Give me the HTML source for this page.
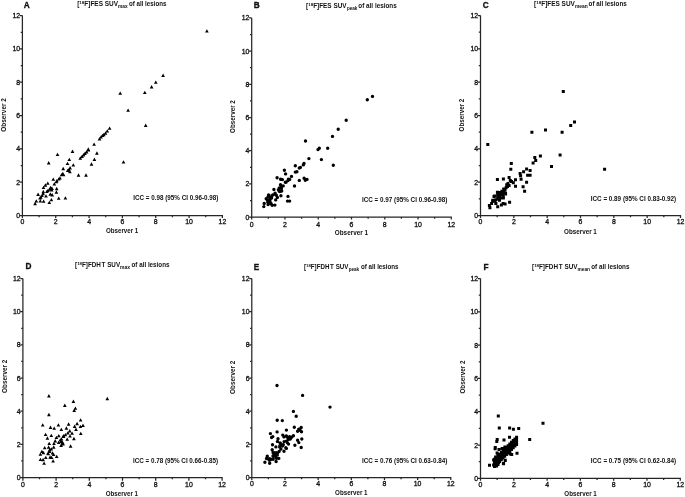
<!DOCTYPE html>
<html><head><meta charset="utf-8"><style>
html,body{margin:0;padding:0;background:#fff;}
body{width:685px;height:497px;overflow:hidden;}
svg{display:block;filter:grayscale(1);}
text{font-family:"Liberation Sans", sans-serif;fill:#111;}
.tl{font-size:6.9px;stroke:#111;stroke-width:0.3px;}
.lt{font-size:19.4px;font-weight:bold;stroke:#111;stroke-width:0.7px;}
.tt{font-size:6.4px;font-weight:bold;}
.sb{font-size:5.3px;font-weight:bold;}
.ic{font-size:6.6px;font-weight:bold;}
.ob{font-size:7.1px;font-weight:bold;}
</style></head><body>
<svg width="685" height="497" viewBox="0 0 685 497">
<rect width="685" height="497" fill="#fff"/>
<path d="M22.4 15.6H19.8M22.4 15.6V215.5H222.4V218" fill="none" stroke="#262626" stroke-width="1.25"/>
<path d="M22.4 215.5H19.8M22.4 215.5V218M22.4 198.84H20.7M39.07 215.5V217.2M22.4 182.18H19.8M55.73 215.5V218M22.4 165.52H20.7M72.4 215.5V217.2M22.4 148.87H19.8M89.07 215.5V218M22.4 132.21H20.7M105.73 215.5V217.2M22.4 115.55H19.8M122.4 215.5V218M22.4 98.89H20.7M139.07 215.5V217.2M22.4 82.23H19.8M155.73 215.5V218M22.4 65.57H20.7M172.4 215.5V217.2M22.4 48.92H19.8M189.07 215.5V218M22.4 32.26H20.7M205.73 215.5V217.2" fill="none" stroke="#262626" stroke-width="1.25"/>
<text x="20.1" y="218" text-anchor="end" class="tl">0</text>
<text x="22.4" y="224.1" text-anchor="middle" class="tl">0</text>
<text x="20.1" y="184.68" text-anchor="end" class="tl">2</text>
<text x="55.73" y="224.1" text-anchor="middle" class="tl">2</text>
<text x="20.1" y="151.37" text-anchor="end" class="tl">4</text>
<text x="89.07" y="224.1" text-anchor="middle" class="tl">4</text>
<text x="20.1" y="118.05" text-anchor="end" class="tl">6</text>
<text x="122.4" y="224.1" text-anchor="middle" class="tl">6</text>
<text x="20.1" y="84.73" text-anchor="end" class="tl">8</text>
<text x="155.73" y="224.1" text-anchor="middle" class="tl">8</text>
<text x="20.1" y="51.42" text-anchor="end" class="tl">10</text>
<text x="189.07" y="224.1" text-anchor="middle" class="tl">10</text>
<text x="20.1" y="18.1" text-anchor="end" class="tl">12</text>
<text x="222.4" y="224.1" text-anchor="middle" class="tl">12</text>
<text transform="translate(23.8 7.6) scale(0.425 0.5)" class="lt">A</text>
<text x="77.2" y="6.2" class="tt" textLength="40.9" lengthAdjust="spacingAndGlyphs">[<tspan font-size="4.4" dy="-2.1">18</tspan><tspan dy="2.1">F]FES SUV</tspan></text>
<text x="118.1" y="8" class="sb" textLength="9.6" lengthAdjust="spacingAndGlyphs">max</text>
<text x="128.9" y="6.2" class="tt" textLength="37.5" lengthAdjust="spacingAndGlyphs">of all lesions</text>
<text x="133.3" y="199.5" class="ic" textLength="85" lengthAdjust="spacingAndGlyphs">ICC = 0.98 (95% CI 0.96-0.98)</text>
<text x="106" y="233.3" class="ob" textLength="32.3" lengthAdjust="spacingAndGlyphs">Observer 1</text>
<text transform="translate(6.2 131.8) rotate(-90)" class="ob" textLength="33.7" lengthAdjust="spacingAndGlyphs">Observer 2</text>
<path d="M35.1 201.85L36.95 205.2H33.25ZM36.3 199.15L38.15 202.5H34.45ZM38.1 192.55L39.95 195.9H36.25ZM40 196.15L41.85 199.5H38.15ZM40.3 199.15L42.15 202.5H38.45ZM40.8 195.35L42.65 198.7H38.95ZM42 193.75L43.85 197.1H40.15ZM43.6 199.45L45.45 202.8H41.75ZM43.3 189.85L45.15 193.2H41.45ZM43.1 191.85L44.95 195.2H41.25ZM43.5 185.65L45.35 189H41.65ZM45.4 183.35L47.25 186.7H43.55ZM47.8 181.45L49.65 184.8H45.95ZM46 194.15L47.85 197.5H44.15ZM46.9 189.75L48.75 193.1H45.05ZM47.9 188.65L49.75 192H46.05ZM49.3 200.65L51.15 204H47.45ZM50.3 192.35L52.15 195.7H48.45ZM50.5 185.75L52.35 189.1H48.65ZM52 186.55L53.85 189.9H50.15ZM51.4 197.95L53.25 201.3H49.55ZM52.2 193.05L54.05 196.4H50.35ZM54.3 182.25L56.15 185.6H52.45ZM56.3 179.95L58.15 183.3H54.45ZM56.7 186.85L58.55 190.2H54.85ZM56.4 190.35L58.25 193.7H54.55ZM58.7 196.45L60.55 199.8H56.85ZM53.3 177.45L55.15 180.8H51.45ZM49.7 187.35L51.55 190.7H47.85ZM51.7 188.15L53.55 191.5H49.85ZM65.4 196.25L67.25 199.6H63.55ZM58.8 177.25L60.65 180.6H56.95ZM56.8 178.95L58.65 182.3H54.95ZM60 176.15L61.85 179.5H58.15ZM57.5 152.75L59.35 156.1H55.65ZM48.7 161.05L50.55 164.4H46.85ZM72.5 149.55L74.35 152.9H70.65ZM69.3 157.75L71.15 161.1H67.45ZM67.5 161.65L69.35 165H65.65ZM73.3 163.15L75.15 166.5H71.45ZM63.2 166.85L65.05 170.2H61.35ZM70.1 166.05L71.95 169.4H68.25ZM67.7 168.75L69.55 172.1H65.85ZM69.9 169.95L71.75 173.3H68.05ZM68.9 167.65L70.75 171H67.05ZM62.8 171.75L64.65 175.1H60.95ZM61.6 172.95L63.45 176.3H59.75ZM63.6 172.95L65.45 176.3H61.75ZM78.5 173.35L80.35 176.7H76.65ZM80.3 156.35L82.15 159.7H78.45ZM82 154.65L83.85 158H80.15ZM83.5 153.05L85.35 156.4H81.65ZM85 151.55L86.85 154.9H83.15ZM86.6 150.05L88.45 153.4H84.75ZM88.5 148.25L90.35 151.6H86.65ZM96.9 151.35L98.75 154.7H95.05ZM94.4 157.55L96.25 160.9H92.55ZM91.5 162.35L93.35 165.7H89.65ZM86 173.35L87.85 176.7H84.15ZM123.5 160.15L125.35 163.5H121.65ZM109.6 126.45L111.45 129.8H107.75ZM107.3 129.25L109.15 132.6H105.45ZM105.5 131.35L107.35 134.7H103.65ZM103.8 132.85L105.65 136.2H101.95ZM102.5 133.65L104.35 137H100.65ZM101 135.25L102.85 138.6H99.15ZM99.5 137.05L101.35 140.4H97.65ZM94.1 142.45L95.95 145.8H92.25ZM88.3 147.35L90.15 150.7H86.45ZM163.1 73.55L164.95 76.9H161.25ZM155.8 80.45L157.65 83.8H153.95ZM151.6 85.05L153.45 88.4H149.75ZM144.8 90.75L146.65 94.1H142.95ZM120.2 91.45L122.05 94.8H118.35ZM128.1 108.45L129.95 111.8H126.25ZM145.7 123.55L147.55 126.9H143.85ZM206.9 29.15L208.75 32.5H205.05Z" fill="#000"/>
<path d="M251.7 17.9H249.1M251.7 17.9V217.1H451.3V219.6" fill="none" stroke="#262626" stroke-width="1.25"/>
<path d="M251.7 217.1H249.1M251.7 217.1V219.6M251.7 200.5H250M268.33 217.1V218.8M251.7 183.9H249.1M284.97 217.1V219.6M251.7 167.3H250M301.6 217.1V218.8M251.7 150.7H249.1M318.23 217.1V219.6M251.7 134.1H250M334.87 217.1V218.8M251.7 117.5H249.1M351.5 217.1V219.6M251.7 100.9H250M368.13 217.1V218.8M251.7 84.3H249.1M384.77 217.1V219.6M251.7 67.7H250M401.4 217.1V218.8M251.7 51.1H249.1M418.03 217.1V219.6M251.7 34.5H250M434.67 217.1V218.8" fill="none" stroke="#262626" stroke-width="1.25"/>
<text x="249.4" y="219.6" text-anchor="end" class="tl">0</text>
<text x="251.7" y="226.6" text-anchor="middle" class="tl">0</text>
<text x="249.4" y="186.4" text-anchor="end" class="tl">2</text>
<text x="284.97" y="226.6" text-anchor="middle" class="tl">2</text>
<text x="249.4" y="153.2" text-anchor="end" class="tl">4</text>
<text x="318.23" y="226.6" text-anchor="middle" class="tl">4</text>
<text x="249.4" y="120" text-anchor="end" class="tl">6</text>
<text x="351.5" y="226.6" text-anchor="middle" class="tl">6</text>
<text x="249.4" y="86.8" text-anchor="end" class="tl">8</text>
<text x="384.77" y="226.6" text-anchor="middle" class="tl">8</text>
<text x="249.4" y="53.6" text-anchor="end" class="tl">10</text>
<text x="418.03" y="226.6" text-anchor="middle" class="tl">10</text>
<text x="249.4" y="20.4" text-anchor="end" class="tl">12</text>
<text x="451.3" y="226.6" text-anchor="middle" class="tl">12</text>
<text transform="translate(253.7 7.8) scale(0.425 0.5)" class="lt">B</text>
<text x="306.1" y="8" class="tt" textLength="40.5" lengthAdjust="spacingAndGlyphs">[<tspan font-size="4.4" dy="-2.1">18</tspan><tspan dy="2.1">F]FES SUV</tspan></text>
<text x="346.9" y="9.8" class="sb" textLength="10.5" lengthAdjust="spacingAndGlyphs">peak</text>
<text x="358.3" y="8" class="tt" textLength="38.5" lengthAdjust="spacingAndGlyphs">of all lesions</text>
<text x="362" y="201.8" class="ic" textLength="85.4" lengthAdjust="spacingAndGlyphs">ICC = 0.97 (95% CI 0.96-0.98)</text>
<text x="334.8" y="235" class="ob" textLength="33.2" lengthAdjust="spacingAndGlyphs">Observer 1</text>
<text transform="translate(235.3 132.9) rotate(-90)" class="ob" textLength="32.7" lengthAdjust="spacingAndGlyphs">Observer 2</text>
<path d="M370.8 96.4a1.7 1.7 0 1 0 3.4 0a1.7 1.7 0 1 0 -3.4 0ZM365.6 99.7a1.7 1.7 0 1 0 3.4 0a1.7 1.7 0 1 0 -3.4 0ZM344.5 120.3a1.7 1.7 0 1 0 3.4 0a1.7 1.7 0 1 0 -3.4 0ZM336.5 129.3a1.7 1.7 0 1 0 3.4 0a1.7 1.7 0 1 0 -3.4 0ZM330.8 136.4a1.7 1.7 0 1 0 3.4 0a1.7 1.7 0 1 0 -3.4 0ZM303.8 141a1.7 1.7 0 1 0 3.4 0a1.7 1.7 0 1 0 -3.4 0ZM317.6 148.3a1.7 1.7 0 1 0 3.4 0a1.7 1.7 0 1 0 -3.4 0ZM316.3 149.6a1.7 1.7 0 1 0 3.4 0a1.7 1.7 0 1 0 -3.4 0ZM326 148.3a1.7 1.7 0 1 0 3.4 0a1.7 1.7 0 1 0 -3.4 0ZM307.2 158.6a1.7 1.7 0 1 0 3.4 0a1.7 1.7 0 1 0 -3.4 0ZM319.7 159.6a1.7 1.7 0 1 0 3.4 0a1.7 1.7 0 1 0 -3.4 0ZM331.6 165.2a1.7 1.7 0 1 0 3.4 0a1.7 1.7 0 1 0 -3.4 0ZM302.3 163.5a1.7 1.7 0 1 0 3.4 0a1.7 1.7 0 1 0 -3.4 0ZM301.6 164.9a1.7 1.7 0 1 0 3.4 0a1.7 1.7 0 1 0 -3.4 0ZM298.7 167.4a1.7 1.7 0 1 0 3.4 0a1.7 1.7 0 1 0 -3.4 0ZM297.6 168a1.7 1.7 0 1 0 3.4 0a1.7 1.7 0 1 0 -3.4 0ZM293.6 165.8a1.7 1.7 0 1 0 3.4 0a1.7 1.7 0 1 0 -3.4 0ZM295.2 171.7a1.7 1.7 0 1 0 3.4 0a1.7 1.7 0 1 0 -3.4 0ZM293.6 172.1a1.7 1.7 0 1 0 3.4 0a1.7 1.7 0 1 0 -3.4 0ZM282.7 170.3a1.7 1.7 0 1 0 3.4 0a1.7 1.7 0 1 0 -3.4 0ZM283.9 173.9a1.7 1.7 0 1 0 3.4 0a1.7 1.7 0 1 0 -3.4 0ZM289.8 176.4a1.7 1.7 0 1 0 3.4 0a1.7 1.7 0 1 0 -3.4 0ZM297.6 180.4a1.7 1.7 0 1 0 3.4 0a1.7 1.7 0 1 0 -3.4 0ZM302.4 178.2a1.7 1.7 0 1 0 3.4 0a1.7 1.7 0 1 0 -3.4 0ZM303.6 180.3a1.7 1.7 0 1 0 3.4 0a1.7 1.7 0 1 0 -3.4 0ZM305.3 179.4a1.7 1.7 0 1 0 3.4 0a1.7 1.7 0 1 0 -3.4 0ZM292.8 186a1.7 1.7 0 1 0 3.4 0a1.7 1.7 0 1 0 -3.4 0ZM288 179.4a1.7 1.7 0 1 0 3.4 0a1.7 1.7 0 1 0 -3.4 0ZM286.3 180.6a1.7 1.7 0 1 0 3.4 0a1.7 1.7 0 1 0 -3.4 0ZM284.3 182.2a1.7 1.7 0 1 0 3.4 0a1.7 1.7 0 1 0 -3.4 0ZM280.7 179.6a1.7 1.7 0 1 0 3.4 0a1.7 1.7 0 1 0 -3.4 0ZM278.9 179.2a1.7 1.7 0 1 0 3.4 0a1.7 1.7 0 1 0 -3.4 0ZM275.4 177.7a1.7 1.7 0 1 0 3.4 0a1.7 1.7 0 1 0 -3.4 0ZM286.7 179.2a1.7 1.7 0 1 0 3.4 0a1.7 1.7 0 1 0 -3.4 0ZM283.6 182.2a1.7 1.7 0 1 0 3.4 0a1.7 1.7 0 1 0 -3.4 0ZM278.8 184.7a1.7 1.7 0 1 0 3.4 0a1.7 1.7 0 1 0 -3.4 0ZM281.5 185.9a1.7 1.7 0 1 0 3.4 0a1.7 1.7 0 1 0 -3.4 0ZM277.6 188a1.7 1.7 0 1 0 3.4 0a1.7 1.7 0 1 0 -3.4 0ZM279.7 188.6a1.7 1.7 0 1 0 3.4 0a1.7 1.7 0 1 0 -3.4 0ZM276.7 189.8a1.7 1.7 0 1 0 3.4 0a1.7 1.7 0 1 0 -3.4 0ZM278.2 191.6a1.7 1.7 0 1 0 3.4 0a1.7 1.7 0 1 0 -3.4 0ZM280 191a1.7 1.7 0 1 0 3.4 0a1.7 1.7 0 1 0 -3.4 0ZM272.2 189.5a1.7 1.7 0 1 0 3.4 0a1.7 1.7 0 1 0 -3.4 0ZM279.2 195.8a1.7 1.7 0 1 0 3.4 0a1.7 1.7 0 1 0 -3.4 0ZM286.3 196.4a1.7 1.7 0 1 0 3.4 0a1.7 1.7 0 1 0 -3.4 0ZM285.8 201.1a1.7 1.7 0 1 0 3.4 0a1.7 1.7 0 1 0 -3.4 0ZM287.9 201.1a1.7 1.7 0 1 0 3.4 0a1.7 1.7 0 1 0 -3.4 0ZM273.4 193.3a1.7 1.7 0 1 0 3.4 0a1.7 1.7 0 1 0 -3.4 0ZM274.6 195.2a1.7 1.7 0 1 0 3.4 0a1.7 1.7 0 1 0 -3.4 0ZM271 194.9a1.7 1.7 0 1 0 3.4 0a1.7 1.7 0 1 0 -3.4 0ZM267.3 195.2a1.7 1.7 0 1 0 3.4 0a1.7 1.7 0 1 0 -3.4 0ZM266.4 196.7a1.7 1.7 0 1 0 3.4 0a1.7 1.7 0 1 0 -3.4 0ZM269.2 197.3a1.7 1.7 0 1 0 3.4 0a1.7 1.7 0 1 0 -3.4 0ZM264.5 198.7a1.7 1.7 0 1 0 3.4 0a1.7 1.7 0 1 0 -3.4 0ZM268.3 199.7a1.7 1.7 0 1 0 3.4 0a1.7 1.7 0 1 0 -3.4 0ZM274 199.9a1.7 1.7 0 1 0 3.4 0a1.7 1.7 0 1 0 -3.4 0ZM275.7 197.4a1.7 1.7 0 1 0 3.4 0a1.7 1.7 0 1 0 -3.4 0ZM262.5 203.5a1.7 1.7 0 1 0 3.4 0a1.7 1.7 0 1 0 -3.4 0ZM266.1 202.2a1.7 1.7 0 1 0 3.4 0a1.7 1.7 0 1 0 -3.4 0ZM269.5 203.7a1.7 1.7 0 1 0 3.4 0a1.7 1.7 0 1 0 -3.4 0ZM262.1 206.6a1.7 1.7 0 1 0 3.4 0a1.7 1.7 0 1 0 -3.4 0ZM266.4 204.6a1.7 1.7 0 1 0 3.4 0a1.7 1.7 0 1 0 -3.4 0ZM270.4 205.3a1.7 1.7 0 1 0 3.4 0a1.7 1.7 0 1 0 -3.4 0ZM273.2 205.1a1.7 1.7 0 1 0 3.4 0a1.7 1.7 0 1 0 -3.4 0ZM268.4 202.1a1.7 1.7 0 1 0 3.4 0a1.7 1.7 0 1 0 -3.4 0ZM269.9 198.1a1.7 1.7 0 1 0 3.4 0a1.7 1.7 0 1 0 -3.4 0ZM267.4 200.1a1.7 1.7 0 1 0 3.4 0a1.7 1.7 0 1 0 -3.4 0ZM266.9 195a1.7 1.7 0 1 0 3.4 0a1.7 1.7 0 1 0 -3.4 0ZM268.4 197.2a1.7 1.7 0 1 0 3.4 0a1.7 1.7 0 1 0 -3.4 0ZM270.9 195.2a1.7 1.7 0 1 0 3.4 0a1.7 1.7 0 1 0 -3.4 0ZM267.9 199.7a1.7 1.7 0 1 0 3.4 0a1.7 1.7 0 1 0 -3.4 0ZM273.4 194.2a1.7 1.7 0 1 0 3.4 0a1.7 1.7 0 1 0 -3.4 0ZM278.5 188.1a1.7 1.7 0 1 0 3.4 0a1.7 1.7 0 1 0 -3.4 0ZM280 186.6a1.7 1.7 0 1 0 3.4 0a1.7 1.7 0 1 0 -3.4 0ZM277.5 191.2a1.7 1.7 0 1 0 3.4 0a1.7 1.7 0 1 0 -3.4 0ZM265.8 200.5a1.7 1.7 0 1 0 3.4 0a1.7 1.7 0 1 0 -3.4 0Z" fill="#000"/>
<path d="M480.5 15.5H477.9M480.5 15.5V215.5H680.5V218" fill="none" stroke="#262626" stroke-width="1.25"/>
<path d="M480.5 215.5H477.9M480.5 215.5V218M480.5 198.83H478.8M497.17 215.5V217.2M480.5 182.17H477.9M513.83 215.5V218M480.5 165.5H478.8M530.5 215.5V217.2M480.5 148.83H477.9M547.17 215.5V218M480.5 132.17H478.8M563.83 215.5V217.2M480.5 115.5H477.9M580.5 215.5V218M480.5 98.83H478.8M597.17 215.5V217.2M480.5 82.17H477.9M613.83 215.5V218M480.5 65.5H478.8M630.5 215.5V217.2M480.5 48.83H477.9M647.17 215.5V218M480.5 32.17H478.8M663.83 215.5V217.2" fill="none" stroke="#262626" stroke-width="1.25"/>
<text x="478.2" y="218" text-anchor="end" class="tl">0</text>
<text x="480.5" y="224.1" text-anchor="middle" class="tl">0</text>
<text x="478.2" y="184.67" text-anchor="end" class="tl">2</text>
<text x="513.83" y="224.1" text-anchor="middle" class="tl">2</text>
<text x="478.2" y="151.33" text-anchor="end" class="tl">4</text>
<text x="547.17" y="224.1" text-anchor="middle" class="tl">4</text>
<text x="478.2" y="118" text-anchor="end" class="tl">6</text>
<text x="580.5" y="224.1" text-anchor="middle" class="tl">6</text>
<text x="478.2" y="84.67" text-anchor="end" class="tl">8</text>
<text x="613.83" y="224.1" text-anchor="middle" class="tl">8</text>
<text x="478.2" y="51.33" text-anchor="end" class="tl">10</text>
<text x="647.17" y="224.1" text-anchor="middle" class="tl">10</text>
<text x="478.2" y="18" text-anchor="end" class="tl">12</text>
<text x="680.5" y="224.1" text-anchor="middle" class="tl">12</text>
<text transform="translate(482.7 7.5) scale(0.425 0.5)" class="lt">C</text>
<text x="534.1" y="6.2" class="tt" textLength="40.8" lengthAdjust="spacingAndGlyphs">[<tspan font-size="4.4" dy="-2.1">18</tspan><tspan dy="2.1">F]FES SUV</tspan></text>
<text x="574.9" y="8" class="sb" textLength="12.8" lengthAdjust="spacingAndGlyphs">mean</text>
<text x="588.6" y="6.2" class="tt" textLength="38.2" lengthAdjust="spacingAndGlyphs">of all lesions</text>
<text x="590.8" y="200.8" class="ic" textLength="85.4" lengthAdjust="spacingAndGlyphs">ICC = 0.89 (95% CI 0.83-0.92)</text>
<text x="564.1" y="233.8" class="ob" textLength="32.7" lengthAdjust="spacingAndGlyphs">Observer 1</text>
<text transform="translate(464.3 131.4) rotate(-90)" class="ob" textLength="32.7" lengthAdjust="spacingAndGlyphs">Observer 2</text>
<path d="M561.8 90.1h3v3h-3ZM573 120.4h3v3h-3ZM569.2 123.9h3v3h-3ZM544 128.4h3v3h-3ZM530.4 130.8h3v3h-3ZM560.6 130.8h3v3h-3ZM486.3 142.9h3v3h-3ZM538.9 154.5h3v3h-3ZM533.3 156.1h3v3h-3ZM558.6 153.4h3v3h-3ZM603.1 167.8h3v3h-3ZM534.2 159.1h3v3h-3ZM531.6 161.6h3v3h-3ZM550 165.1h3v3h-3ZM509.8 162.1h3v3h-3ZM509.3 167.8h3v3h-3ZM525.1 167.6h3v3h-3ZM528.6 169.1h3v3h-3ZM522.1 170.2h3v3h-3ZM518.6 172.1h3v3h-3ZM519.1 174.2h3v3h-3ZM526.1 173.7h3v3h-3ZM528.6 173.7h3v3h-3ZM519.6 177.7h3v3h-3ZM525.1 180.7h3v3h-3ZM521.6 185.2h3v3h-3ZM523.1 189.7h3v3h-3ZM514 178.3h3v3h-3ZM514 184.7h3v3h-3ZM495.9 178h3v3h-3ZM501.9 177.4h3v3h-3ZM507.6 175.9h3v3h-3ZM508.8 178.9h3v3h-3ZM511.8 181.3h3v3h-3ZM505.2 183.2h3v3h-3ZM507.6 184.1h3v3h-3ZM502.2 187.4h3v3h-3ZM504.6 186.2h3v3h-3ZM504 191.6h3v3h-3ZM500.4 189.8h3v3h-3ZM495.9 190.7h3v3h-3ZM498.6 192.8h3v3h-3ZM501.9 196.1h3v3h-3ZM493.1 194.6h3v3h-3ZM496.2 195.8h3v3h-3ZM491.3 198.8h3v3h-3ZM494.3 198.2h3v3h-3ZM498 198.8h3v3h-3ZM490.1 201.9h3v3h-3ZM494.3 201.9h3v3h-3ZM501.6 201.9h3v3h-3ZM508.1 200.8h3v3h-3ZM488.4 206.2h3v3h-3ZM487.9 203.9h3v3h-3ZM491.1 199.8h3v3h-3ZM492.5 195.1h3v3h-3ZM496.2 205.3h3v3h-3ZM494.4 202.1h3v3h-3ZM499.9 203.5h3v3h-3ZM503.6 202.5h3v3h-3ZM501.8 196.5h3v3h-3ZM504.1 192.4h3v3h-3ZM496.2 193.3h3v3h-3ZM497.2 197.4h3v3h-3ZM493.5 199.8h3v3h-3ZM506 185h3v3h-3ZM503.5 188h3v3h-3ZM502.5 189.5h3v3h-3ZM501 191.5h3v3h-3ZM499.5 193h3v3h-3ZM498 195h3v3h-3ZM506.5 182h3v3h-3ZM510 180h3v3h-3ZM501.5 193.5h3v3h-3ZM499 196.5h3v3h-3ZM497.5 191h3v3h-3Z" fill="#000"/>
<path d="M22.9 278.5H20.3M22.9 278.5V477.5H222.1V480.8" fill="none" stroke="#262626" stroke-width="1.25"/>
<path d="M22.9 477.5H20.3M22.9 477.5V480.8M22.9 460.92H21.2M39.5 477.5V479.2M22.9 444.33H20.3M56.1 477.5V480.8M22.9 427.75H21.2M72.7 477.5V479.2M22.9 411.17H20.3M89.3 477.5V480.8M22.9 394.58H21.2M105.9 477.5V479.2M22.9 378H20.3M122.5 477.5V480.8M22.9 361.42H21.2M139.1 477.5V479.2M22.9 344.83H20.3M155.7 477.5V480.8M22.9 328.25H21.2M172.3 477.5V479.2M22.9 311.67H20.3M188.9 477.5V480.8M22.9 295.08H21.2M205.5 477.5V479.2" fill="none" stroke="#262626" stroke-width="1.25"/>
<text x="20.6" y="480" text-anchor="end" class="tl">0</text>
<text x="22.9" y="487.1" text-anchor="middle" class="tl">0</text>
<text x="20.6" y="446.83" text-anchor="end" class="tl">2</text>
<text x="56.1" y="487.1" text-anchor="middle" class="tl">2</text>
<text x="20.6" y="413.67" text-anchor="end" class="tl">4</text>
<text x="89.3" y="487.1" text-anchor="middle" class="tl">4</text>
<text x="20.6" y="380.5" text-anchor="end" class="tl">6</text>
<text x="122.5" y="487.1" text-anchor="middle" class="tl">6</text>
<text x="20.6" y="347.33" text-anchor="end" class="tl">8</text>
<text x="155.7" y="487.1" text-anchor="middle" class="tl">8</text>
<text x="20.6" y="314.17" text-anchor="end" class="tl">10</text>
<text x="188.9" y="487.1" text-anchor="middle" class="tl">10</text>
<text x="20.6" y="281" text-anchor="end" class="tl">12</text>
<text x="222.1" y="487.1" text-anchor="middle" class="tl">12</text>
<text transform="translate(25.6 269.3) scale(0.425 0.5)" class="lt">D</text>
<text x="75.1" y="266.7" class="tt" textLength="45" lengthAdjust="spacingAndGlyphs">[<tspan font-size="4.4" dy="-2.1">18</tspan><tspan dy="2.1">F]FDH<tspan dx="0.7">T</tspan> SUV</tspan></text>
<text x="120.1" y="268.5" class="sb" textLength="10" lengthAdjust="spacingAndGlyphs">max</text>
<text x="131.5" y="266.7" class="tt" textLength="38" lengthAdjust="spacingAndGlyphs">of all lesions</text>
<text x="133" y="463.1" class="ic" textLength="85" lengthAdjust="spacingAndGlyphs">ICC = 0.78 (95% CI 0.66-0.85)</text>
<text x="105.8" y="495.5" class="ob" textLength="32.2" lengthAdjust="spacingAndGlyphs">Observer 1</text>
<text transform="translate(6.8 392.9) rotate(-90)" class="ob" textLength="33.2" lengthAdjust="spacingAndGlyphs">Observer 2</text>
<path d="M48.9 394.05L50.75 397.4H47.05ZM73.4 399.55L75.25 402.9H71.55ZM64.8 403.55L66.65 406.9H62.95ZM75.4 406.45L77.25 409.8H73.55ZM74.2 408.55L76.05 411.9H72.35ZM48.9 412.85L50.75 416.2H47.05ZM80.6 418.15L82.45 421.5H78.75ZM42.7 423.25L44.55 426.6H40.85ZM50.5 425.55L52.35 428.9H48.65ZM58.4 423.25L60.25 426.6H56.55ZM68.6 422.35L70.45 425.7H66.75ZM77.1 421.85L78.95 425.2H75.25ZM74.6 424.55L76.45 427.9H72.75ZM80.4 424.65L82.25 428H78.55ZM83 423.55L84.85 426.9H81.15ZM54.2 426.45L56.05 429.8H52.35ZM61.3 427.75L63.15 431.1H59.45ZM66.4 426.35L68.25 429.7H64.55ZM107.3 396.85L109.15 400.2H105.45ZM45.6 432.75L47.45 436.1H43.75ZM51.3 433.65L53.15 437H49.45ZM47.4 436.35L49.25 439.7H45.55ZM58.8 433.95L60.65 437.3H56.95ZM56.4 435.75L58.25 439.1H54.55ZM63.4 433.95L65.25 437.3H61.55ZM60.3 438.15L62.15 441.5H58.45ZM55.2 439.05L57.05 442.4H53.35ZM62.8 441.15L64.65 444.5H60.95ZM61.1 443.55L62.95 446.9H59.25ZM54 441.75L55.85 445.1H52.15ZM49.2 441.75L51.05 445.1H47.35ZM44.7 445.95L46.55 449.3H42.85ZM48.6 445.35L50.45 448.7H46.75ZM53.7 445.35L55.55 448.7H51.85ZM51.3 447.15L53.15 450.5H49.45ZM41.9 449.75L43.75 453.1H40.05ZM43.4 450.85L45.25 454.2H41.55ZM49.5 449.65L51.35 453H47.65ZM48 451.45L49.85 454.8H46.15ZM52.5 451.15L54.35 454.5H50.65ZM40.4 452.45L42.25 455.8H38.55ZM49.6 448.05L51.45 451.4H47.75ZM48.3 451.85L50.15 455.2H46.45ZM53.6 452.65L55.45 456H51.75ZM50.1 455.35L51.95 458.7H48.25ZM45.8 455.65L47.65 459H43.95ZM40.5 457.65L42.35 461H38.65ZM43.1 457.85L44.95 461.2H41.25ZM51.6 455.65L53.45 459H49.75ZM56.7 454.65L58.55 458H54.85ZM53.1 459.15L54.95 462.5H51.25ZM44.1 461.45L45.95 464.8H42.25ZM76 427.55L77.85 430.9H74.15ZM80.8 431.75L82.65 435.1H78.95ZM69.7 429.05L71.55 432.4H67.85ZM72.1 431.45L73.95 434.8H70.25ZM67.8 431.15L69.65 434.5H65.95ZM65.4 432.95L67.25 436.3H63.55ZM70 434.15L71.85 437.5H68.15ZM63.6 434.75L65.45 438.1H61.75ZM73.9 436.85L75.75 440.2H72.05ZM67.2 437.45L69.05 440.8H65.35ZM61.5 437.15L63.35 440.5H59.65ZM61.2 439.65L63.05 443H59.35ZM63 442.05L64.85 445.4H61.15ZM70.6 444.35L72.45 447.7H68.75ZM58.6 440.75L60.45 444.1H56.75ZM62.5 440.45L64.35 443.8H60.65Z" fill="#000"/>
<path d="M251.8 278.5H249.2M251.8 278.5V477.5H450.8V480" fill="none" stroke="#262626" stroke-width="1.25"/>
<path d="M251.8 477.5H249.2M251.8 477.5V480M251.8 460.92H250.1M268.38 477.5V479.2M251.8 444.33H249.2M284.97 477.5V480M251.8 427.75H250.1M301.55 477.5V479.2M251.8 411.17H249.2M318.13 477.5V480M251.8 394.58H250.1M334.72 477.5V479.2M251.8 378H249.2M351.3 477.5V480M251.8 361.42H250.1M367.88 477.5V479.2M251.8 344.83H249.2M384.47 477.5V480M251.8 328.25H250.1M401.05 477.5V479.2M251.8 311.67H249.2M417.63 477.5V480M251.8 295.08H250.1M434.22 477.5V479.2" fill="none" stroke="#262626" stroke-width="1.25"/>
<text x="249.5" y="480" text-anchor="end" class="tl">0</text>
<text x="251.8" y="486.1" text-anchor="middle" class="tl">0</text>
<text x="249.5" y="446.83" text-anchor="end" class="tl">2</text>
<text x="284.97" y="486.1" text-anchor="middle" class="tl">2</text>
<text x="249.5" y="413.67" text-anchor="end" class="tl">4</text>
<text x="318.13" y="486.1" text-anchor="middle" class="tl">4</text>
<text x="249.5" y="380.5" text-anchor="end" class="tl">6</text>
<text x="351.3" y="486.1" text-anchor="middle" class="tl">6</text>
<text x="249.5" y="347.33" text-anchor="end" class="tl">8</text>
<text x="384.47" y="486.1" text-anchor="middle" class="tl">8</text>
<text x="249.5" y="314.17" text-anchor="end" class="tl">10</text>
<text x="417.63" y="486.1" text-anchor="middle" class="tl">10</text>
<text x="249.5" y="281" text-anchor="end" class="tl">12</text>
<text x="450.8" y="486.1" text-anchor="middle" class="tl">12</text>
<text transform="translate(253.7 269.5) scale(0.425 0.5)" class="lt">E</text>
<text x="304" y="269" class="tt" textLength="44.4" lengthAdjust="spacingAndGlyphs">[<tspan font-size="4.4" dy="-2.1">18</tspan><tspan dy="2.1">F]FDH<tspan dx="0.7">T</tspan> SUV</tspan></text>
<text x="348.7" y="270.8" class="sb" textLength="10.5" lengthAdjust="spacingAndGlyphs">peak</text>
<text x="360.9" y="269" class="tt" textLength="37.7" lengthAdjust="spacingAndGlyphs">of all lesions</text>
<text x="362" y="462.8" class="ic" textLength="85.3" lengthAdjust="spacingAndGlyphs">ICC = 0.76 (95% CI 0.63-0.84)</text>
<text x="335.1" y="494.8" class="ob" textLength="32.4" lengthAdjust="spacingAndGlyphs">Observer 1</text>
<text transform="translate(235.3 393.9) rotate(-90)" class="ob" textLength="33.2" lengthAdjust="spacingAndGlyphs">Observer 2</text>
<path d="M275.3 385.5a1.7 1.7 0 1 0 3.4 0a1.7 1.7 0 1 0 -3.4 0ZM300.9 395.4a1.7 1.7 0 1 0 3.4 0a1.7 1.7 0 1 0 -3.4 0ZM328.3 407.1a1.7 1.7 0 1 0 3.4 0a1.7 1.7 0 1 0 -3.4 0ZM291.7 411.4a1.7 1.7 0 1 0 3.4 0a1.7 1.7 0 1 0 -3.4 0ZM294.5 416.3a1.7 1.7 0 1 0 3.4 0a1.7 1.7 0 1 0 -3.4 0ZM275.5 420.2a1.7 1.7 0 1 0 3.4 0a1.7 1.7 0 1 0 -3.4 0ZM280.6 420.6a1.7 1.7 0 1 0 3.4 0a1.7 1.7 0 1 0 -3.4 0ZM292.6 427.2a1.7 1.7 0 1 0 3.4 0a1.7 1.7 0 1 0 -3.4 0ZM299.5 427.5a1.7 1.7 0 1 0 3.4 0a1.7 1.7 0 1 0 -3.4 0ZM297.1 429.1a1.7 1.7 0 1 0 3.4 0a1.7 1.7 0 1 0 -3.4 0ZM295.9 431.2a1.7 1.7 0 1 0 3.4 0a1.7 1.7 0 1 0 -3.4 0ZM299.8 431.8a1.7 1.7 0 1 0 3.4 0a1.7 1.7 0 1 0 -3.4 0ZM298.3 430.3a1.7 1.7 0 1 0 3.4 0a1.7 1.7 0 1 0 -3.4 0ZM284.7 430.1a1.7 1.7 0 1 0 3.4 0a1.7 1.7 0 1 0 -3.4 0ZM275.4 431.9a1.7 1.7 0 1 0 3.4 0a1.7 1.7 0 1 0 -3.4 0ZM268.7 433.6a1.7 1.7 0 1 0 3.4 0a1.7 1.7 0 1 0 -3.4 0ZM271.1 436.6a1.7 1.7 0 1 0 3.4 0a1.7 1.7 0 1 0 -3.4 0ZM269.9 437.5a1.7 1.7 0 1 0 3.4 0a1.7 1.7 0 1 0 -3.4 0ZM281.1 435.1a1.7 1.7 0 1 0 3.4 0a1.7 1.7 0 1 0 -3.4 0ZM284.7 436a1.7 1.7 0 1 0 3.4 0a1.7 1.7 0 1 0 -3.4 0ZM291.7 435.7a1.7 1.7 0 1 0 3.4 0a1.7 1.7 0 1 0 -3.4 0ZM282.3 436.9a1.7 1.7 0 1 0 3.4 0a1.7 1.7 0 1 0 -3.4 0ZM286.2 438.1a1.7 1.7 0 1 0 3.4 0a1.7 1.7 0 1 0 -3.4 0ZM288.6 439a1.7 1.7 0 1 0 3.4 0a1.7 1.7 0 1 0 -3.4 0ZM289.9 437.2a1.7 1.7 0 1 0 3.4 0a1.7 1.7 0 1 0 -3.4 0ZM276.3 438.7a1.7 1.7 0 1 0 3.4 0a1.7 1.7 0 1 0 -3.4 0ZM275.7 441.4a1.7 1.7 0 1 0 3.4 0a1.7 1.7 0 1 0 -3.4 0ZM295.9 440.2a1.7 1.7 0 1 0 3.4 0a1.7 1.7 0 1 0 -3.4 0ZM297.1 442.6a1.7 1.7 0 1 0 3.4 0a1.7 1.7 0 1 0 -3.4 0ZM300.1 439a1.7 1.7 0 1 0 3.4 0a1.7 1.7 0 1 0 -3.4 0ZM284.7 441.1a1.7 1.7 0 1 0 3.4 0a1.7 1.7 0 1 0 -3.4 0ZM286.8 444.1a1.7 1.7 0 1 0 3.4 0a1.7 1.7 0 1 0 -3.4 0ZM278.4 442.9a1.7 1.7 0 1 0 3.4 0a1.7 1.7 0 1 0 -3.4 0ZM280.5 444.7a1.7 1.7 0 1 0 3.4 0a1.7 1.7 0 1 0 -3.4 0ZM278.1 446a1.7 1.7 0 1 0 3.4 0a1.7 1.7 0 1 0 -3.4 0ZM270.8 444.8a1.7 1.7 0 1 0 3.4 0a1.7 1.7 0 1 0 -3.4 0ZM274.2 446.9a1.7 1.7 0 1 0 3.4 0a1.7 1.7 0 1 0 -3.4 0ZM293.2 445.3a1.7 1.7 0 1 0 3.4 0a1.7 1.7 0 1 0 -3.4 0ZM299.5 447.5a1.7 1.7 0 1 0 3.4 0a1.7 1.7 0 1 0 -3.4 0ZM284.1 447.8a1.7 1.7 0 1 0 3.4 0a1.7 1.7 0 1 0 -3.4 0ZM270.5 449.6a1.7 1.7 0 1 0 3.4 0a1.7 1.7 0 1 0 -3.4 0ZM281.6 444.8a1.7 1.7 0 1 0 3.4 0a1.7 1.7 0 1 0 -3.4 0ZM284.7 448.4a1.7 1.7 0 1 0 3.4 0a1.7 1.7 0 1 0 -3.4 0ZM282.3 451.2a1.7 1.7 0 1 0 3.4 0a1.7 1.7 0 1 0 -3.4 0ZM279.2 449.1a1.7 1.7 0 1 0 3.4 0a1.7 1.7 0 1 0 -3.4 0ZM277.4 451.5a1.7 1.7 0 1 0 3.4 0a1.7 1.7 0 1 0 -3.4 0ZM270.5 450a1.7 1.7 0 1 0 3.4 0a1.7 1.7 0 1 0 -3.4 0ZM271.4 452.7a1.7 1.7 0 1 0 3.4 0a1.7 1.7 0 1 0 -3.4 0ZM274.4 452.7a1.7 1.7 0 1 0 3.4 0a1.7 1.7 0 1 0 -3.4 0ZM275.6 455.1a1.7 1.7 0 1 0 3.4 0a1.7 1.7 0 1 0 -3.4 0ZM272 456.3a1.7 1.7 0 1 0 3.4 0a1.7 1.7 0 1 0 -3.4 0ZM265.6 456.3a1.7 1.7 0 1 0 3.4 0a1.7 1.7 0 1 0 -3.4 0ZM264.8 458.5a1.7 1.7 0 1 0 3.4 0a1.7 1.7 0 1 0 -3.4 0ZM268.4 459.9a1.7 1.7 0 1 0 3.4 0a1.7 1.7 0 1 0 -3.4 0ZM271.4 459.3a1.7 1.7 0 1 0 3.4 0a1.7 1.7 0 1 0 -3.4 0ZM277.1 458.4a1.7 1.7 0 1 0 3.4 0a1.7 1.7 0 1 0 -3.4 0ZM274.4 461.5a1.7 1.7 0 1 0 3.4 0a1.7 1.7 0 1 0 -3.4 0ZM263.2 462.3a1.7 1.7 0 1 0 3.4 0a1.7 1.7 0 1 0 -3.4 0ZM268 463.3a1.7 1.7 0 1 0 3.4 0a1.7 1.7 0 1 0 -3.4 0ZM270.4 459.1a1.7 1.7 0 1 0 3.4 0a1.7 1.7 0 1 0 -3.4 0ZM271.9 453a1.7 1.7 0 1 0 3.4 0a1.7 1.7 0 1 0 -3.4 0ZM274 456.5a1.7 1.7 0 1 0 3.4 0a1.7 1.7 0 1 0 -3.4 0ZM267.4 460.1a1.7 1.7 0 1 0 3.4 0a1.7 1.7 0 1 0 -3.4 0ZM279.1 443.8a1.7 1.7 0 1 0 3.4 0a1.7 1.7 0 1 0 -3.4 0ZM280.7 446a1.7 1.7 0 1 0 3.4 0a1.7 1.7 0 1 0 -3.4 0ZM278 447.1a1.7 1.7 0 1 0 3.4 0a1.7 1.7 0 1 0 -3.4 0ZM282.4 441.6a1.7 1.7 0 1 0 3.4 0a1.7 1.7 0 1 0 -3.4 0ZM272.4 452.6a1.7 1.7 0 1 0 3.4 0a1.7 1.7 0 1 0 -3.4 0ZM273.5 454.8a1.7 1.7 0 1 0 3.4 0a1.7 1.7 0 1 0 -3.4 0ZM271.3 455.9a1.7 1.7 0 1 0 3.4 0a1.7 1.7 0 1 0 -3.4 0ZM275.7 453.2a1.7 1.7 0 1 0 3.4 0a1.7 1.7 0 1 0 -3.4 0ZM274.6 458.2a1.7 1.7 0 1 0 3.4 0a1.7 1.7 0 1 0 -3.4 0ZM268 458.8a1.7 1.7 0 1 0 3.4 0a1.7 1.7 0 1 0 -3.4 0ZM286.8 439.3a1.7 1.7 0 1 0 3.4 0a1.7 1.7 0 1 0 -3.4 0ZM287.9 436.6a1.7 1.7 0 1 0 3.4 0a1.7 1.7 0 1 0 -3.4 0ZM285.7 442.7a1.7 1.7 0 1 0 3.4 0a1.7 1.7 0 1 0 -3.4 0Z" fill="#000"/>
<path d="M480.5 278.5H477.9M480.5 278.5V478.3H680.3V480.8" fill="none" stroke="#262626" stroke-width="1.25"/>
<path d="M480.5 478.3H477.9M480.5 478.3V480.8M480.5 461.65H478.8M497.15 478.3V480M480.5 445H477.9M513.8 478.3V480.8M480.5 428.35H478.8M530.45 478.3V480M480.5 411.7H477.9M547.1 478.3V480.8M480.5 395.05H478.8M563.75 478.3V480M480.5 378.4H477.9M580.4 478.3V480.8M480.5 361.75H478.8M597.05 478.3V480M480.5 345.1H477.9M613.7 478.3V480.8M480.5 328.45H478.8M630.35 478.3V480M480.5 311.8H477.9M647 478.3V480.8M480.5 295.15H478.8M663.65 478.3V480" fill="none" stroke="#262626" stroke-width="1.25"/>
<text x="478.2" y="480.8" text-anchor="end" class="tl">0</text>
<text x="480.5" y="486.9" text-anchor="middle" class="tl">0</text>
<text x="478.2" y="447.5" text-anchor="end" class="tl">2</text>
<text x="513.8" y="486.9" text-anchor="middle" class="tl">2</text>
<text x="478.2" y="414.2" text-anchor="end" class="tl">4</text>
<text x="547.1" y="486.9" text-anchor="middle" class="tl">4</text>
<text x="478.2" y="380.9" text-anchor="end" class="tl">6</text>
<text x="580.4" y="486.9" text-anchor="middle" class="tl">6</text>
<text x="478.2" y="347.6" text-anchor="end" class="tl">8</text>
<text x="613.7" y="486.9" text-anchor="middle" class="tl">8</text>
<text x="478.2" y="314.3" text-anchor="end" class="tl">10</text>
<text x="647" y="486.9" text-anchor="middle" class="tl">10</text>
<text x="478.2" y="281" text-anchor="end" class="tl">12</text>
<text x="680.3" y="486.9" text-anchor="middle" class="tl">12</text>
<text transform="translate(483.5 269.5) scale(0.425 0.5)" class="lt">F</text>
<text x="532" y="269" class="tt" textLength="45.5" lengthAdjust="spacingAndGlyphs">[<tspan font-size="4.4" dy="-2.1">18</tspan><tspan dy="2.1">F]FDH<tspan dx="0.7">T</tspan> SUV</tspan></text>
<text x="577.5" y="270.8" class="sb" textLength="12.5" lengthAdjust="spacingAndGlyphs">mean</text>
<text x="591.2" y="269" class="tt" textLength="38.3" lengthAdjust="spacingAndGlyphs">of all lesions</text>
<text x="590.8" y="463.1" class="ic" textLength="85.4" lengthAdjust="spacingAndGlyphs">ICC = 0.75 (95% CI 0.62-0.84)</text>
<text x="564.3" y="495.8" class="ob" textLength="32.5" lengthAdjust="spacingAndGlyphs">Observer 1</text>
<text transform="translate(464.7 393.6) rotate(-90)" class="ob" textLength="33" lengthAdjust="spacingAndGlyphs">Observer 2</text>
<path d="M496.8 414.6h3v3h-3ZM541.5 421.8h3v3h-3ZM497.8 426.4h3v3h-3ZM508.1 426.6h3v3h-3ZM511.9 427.7h3v3h-3ZM517.2 427.1h3v3h-3ZM528.2 438h3v3h-3ZM495.7 437.9h3v3h-3ZM495.3 440h3v3h-3ZM502.5 438.6h3v3h-3ZM508 435.7h3v3h-3ZM493.8 445.9h3v3h-3ZM488 463.8h3v3h-3ZM515.5 451.8h3v3h-3ZM510.2 453h3v3h-3ZM503.8 458.7h3v3h-3ZM501.9 462.3h3v3h-3ZM492.1 463.6h3v3h-3ZM495.1 464.6h3v3h-3ZM492.1 458.6h3v3h-3ZM494.1 455.6h3v3h-3ZM497.1 461.1h3v3h-3ZM502.1 462.1h3v3h-3ZM503.7 459.1h3v3h-3ZM508.7 452.5h3v3h-3ZM495.6 451.5h3v3h-3ZM493.6 447.2h3v3h-3ZM500.6 447h3v3h-3ZM493 457.8h3v3h-3ZM493 460.2h3v3h-3ZM493 462.6h3v3h-3ZM493 465h3v3h-3ZM494.7 456.1h3v3h-3ZM494.7 458.5h3v3h-3ZM494.7 460.9h3v3h-3ZM494.7 463.3h3v3h-3ZM496.4 454.4h3v3h-3ZM496.4 456.8h3v3h-3ZM496.4 459.2h3v3h-3ZM496.4 461.6h3v3h-3ZM498.1 452.7h3v3h-3ZM498.1 455.1h3v3h-3ZM498.1 457.5h3v3h-3ZM498.1 459.9h3v3h-3ZM499.8 451h3v3h-3ZM499.8 453.4h3v3h-3ZM499.8 455.8h3v3h-3ZM499.8 458.2h3v3h-3ZM501.5 449.3h3v3h-3ZM501.5 451.7h3v3h-3ZM501.5 454.1h3v3h-3ZM501.5 456.5h3v3h-3ZM503.2 447.6h3v3h-3ZM503.2 450h3v3h-3ZM503.2 452.4h3v3h-3ZM503.2 454.8h3v3h-3ZM504.9 445.9h3v3h-3ZM504.9 448.3h3v3h-3ZM504.9 450.7h3v3h-3ZM504.9 453.1h3v3h-3ZM506.6 444.2h3v3h-3ZM506.6 446.6h3v3h-3ZM506.6 449h3v3h-3ZM506.6 451.4h3v3h-3ZM508.3 442.5h3v3h-3ZM508.3 444.9h3v3h-3ZM508.3 447.3h3v3h-3ZM508.3 449.7h3v3h-3ZM510 440.8h3v3h-3ZM510 443.2h3v3h-3ZM510 445.6h3v3h-3ZM510 448h3v3h-3ZM511.7 439.1h3v3h-3ZM511.7 441.5h3v3h-3ZM511.7 443.9h3v3h-3ZM511.7 446.3h3v3h-3ZM513.4 437.4h3v3h-3ZM513.4 439.8h3v3h-3ZM513.4 442.2h3v3h-3ZM513.4 444.6h3v3h-3ZM515.1 435.7h3v3h-3ZM515.1 438.1h3v3h-3ZM515.1 440.5h3v3h-3ZM515.1 442.9h3v3h-3ZM495.5 456.5h3v3h-3ZM498.5 454.5h3v3h-3ZM493 461h3v3h-3ZM496.5 463h3v3h-3ZM497.5 448h3v3h-3ZM503.4 445.4h3v3h-3Z" fill="#000"/>
</svg>
</body></html>
